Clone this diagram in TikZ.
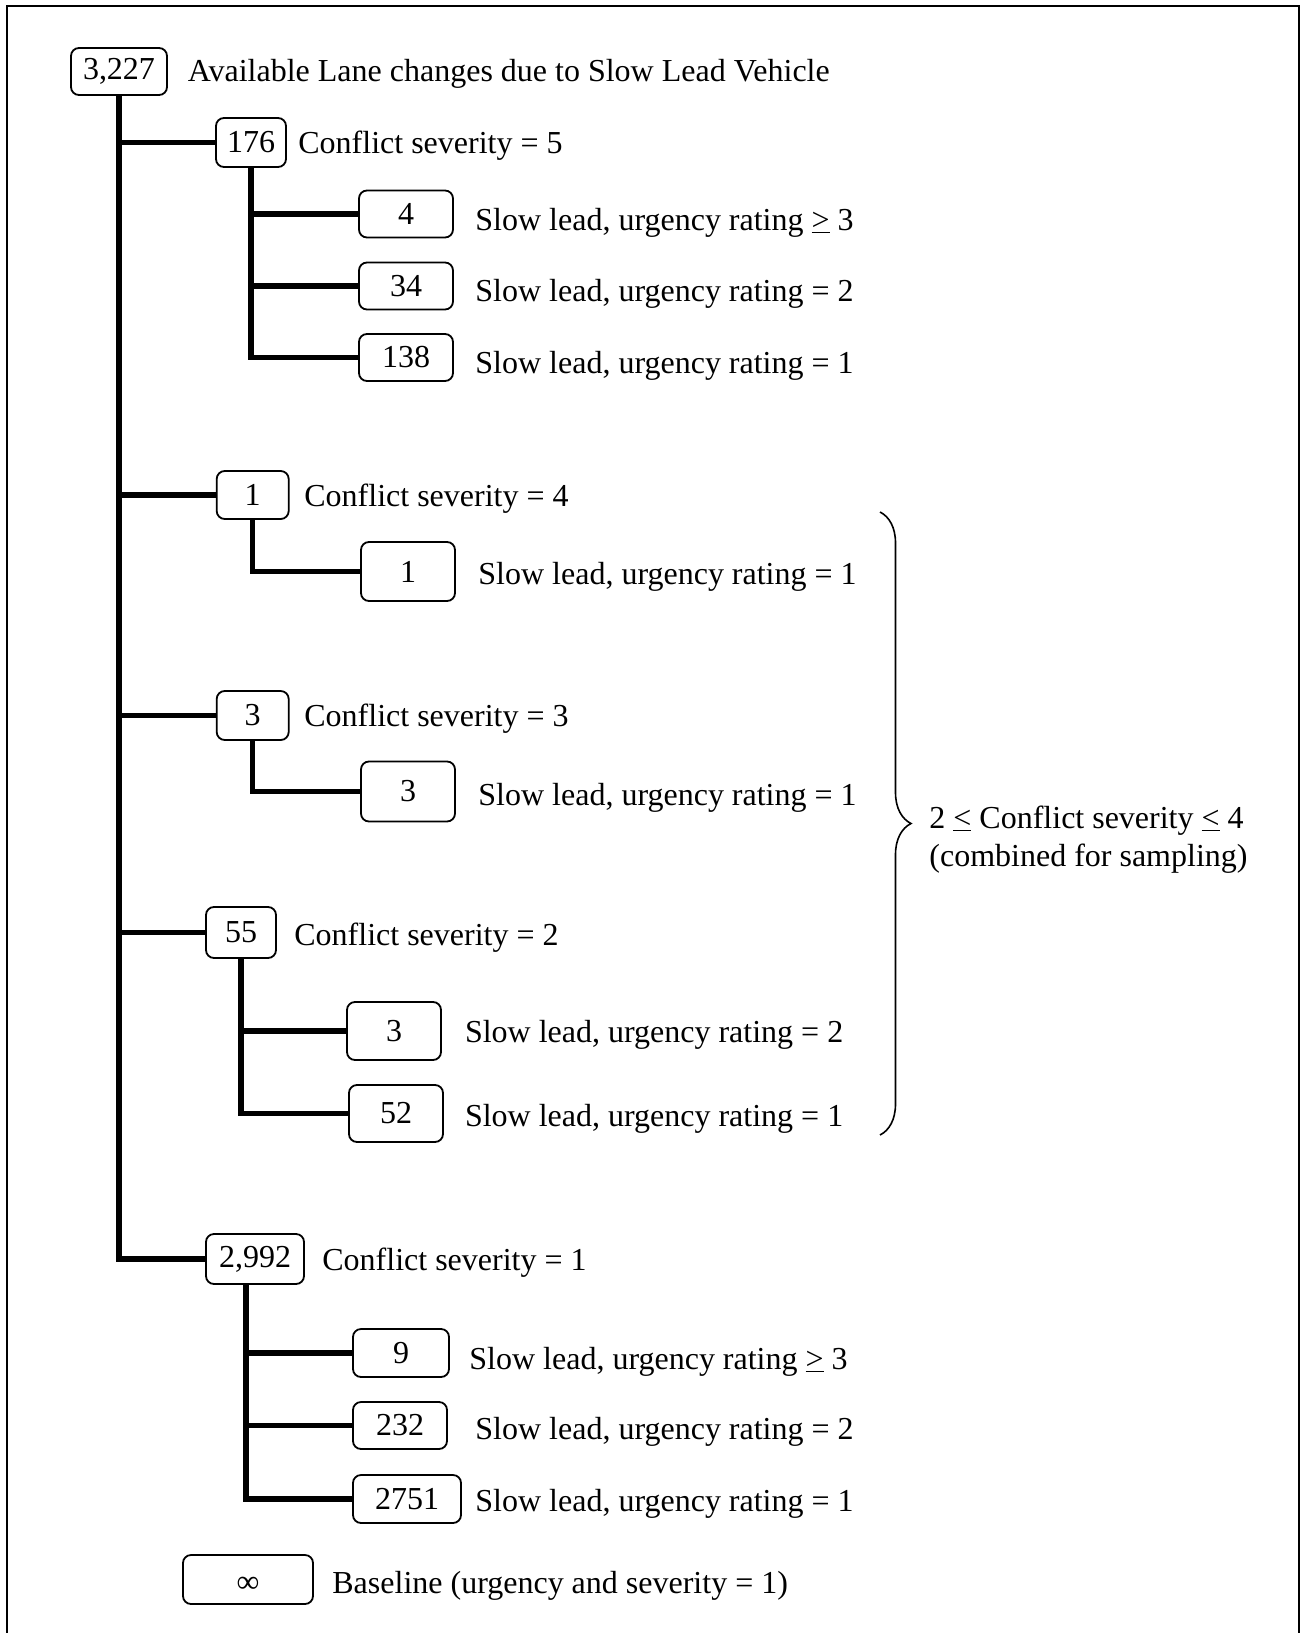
\documentclass[tikz,border=0pt]{standalone}
\usepackage{fontspec}
\setmainfont{Liberation Serif}
\usetikzlibrary{decorations.pathreplacing}

\begin{document}
\begin{tikzpicture}[x=0.5pt, y=-0.5pt, font=\fontsize{16}{19}\selectfont,
    cnt/.style={draw, rounded corners=4pt, line width=0.9pt, inner sep=0pt,
                minimum width=47pt, minimum height=23.5pt},
    lbl/.style={anchor=base west, inner sep=0pt},
    trunk/.style={line width=2.6pt}]

\useasboundingbox (0,0) rectangle (1301,1633);
\draw[line width=1pt] (7,1660) -- (7,6) -- (1299,6) -- (1299,1660);

% count boxes
\node[cnt, minimum width=48pt] (tot) at (119,71.5) {3,227};
\node[cnt, minimum width=35pt, minimum height=24.5pt] (sv5) at (251,142.5) {176};
\node[cnt] (sv5u3) at (406,214) {4};
\node[cnt] (sv5u2) at (406,286) {34};
\node[cnt] (sv5u1) at (406,357.5) {138};
\node[cnt, minimum width=36pt, minimum height=24pt] (sv4) at (252.7,495) {1};
\node[cnt, minimum height=29.5pt] (sv4u1) at (408,571.5) {1};
\node[cnt, minimum width=36pt, minimum height=24.5pt] (sv3) at (252.7,715.5) {3};
\node[cnt, minimum height=30pt] (sv3u1) at (408,791.5) {3};
\node[cnt, minimum width=35pt, minimum height=25.5pt] (sv2) at (241,932.5) {55};
\node[cnt, minimum height=29pt] (sv2u2) at (394,1031) {3};
\node[cnt, minimum height=28.5pt] (sv2u1) at (396,1113.5) {52};
\node[cnt, minimum width=49pt, minimum height=25pt] (sv1) at (255,1259) {2,992};
\node[cnt, minimum width=48pt, minimum height=24pt] (sv1u3) at (401,1353) {9};
\node[cnt] (sv1u2) at (400,1425.5) {232};
\node[cnt, minimum width=54pt, minimum height=24pt] (sv1u1) at (407,1499) {2751};
\node[cnt, minimum width=65pt, minimum height=24.5pt] (base) at (248,1579.5) {\raisebox{-6.5pt}[0pt][0pt]{∞}};

% labels
\node[lbl] (tottxt) at (187.5,81) {Available Lane changes due to Slow Lead Vehicle};
\node[lbl] (sv5txt) at (298,153) {Conflict severity = 5};
\node[lbl] (sv5u3txt) at (475,230) {Slow lead, urgency rating \underline{>} 3};
\node[lbl] (sv5u2txt) at (475,301.5) {Slow lead, urgency rating = 2};
\node[lbl] (sv5u1txt) at (475,373.5) {Slow lead, urgency rating = 1};
\node[lbl] (sv4txt) at (304,506) {Conflict severity = 4};
\node[lbl] (sv4u1txt) at (478,584) {Slow lead, urgency rating = 1};
\node[lbl] (sv3txt) at (304,726) {Conflict severity = 3};
\node[lbl] (sv3u1txt) at (478,805) {Slow lead, urgency rating = 1};
\node[lbl] (sv2txt) at (294,945) {Conflict severity = 2};
\node[lbl] (sv2u2txt) at (464.6,1042) {Slow lead, urgency rating = 2};
\node[lbl] (sv2u1txt) at (464.6,1126) {Slow lead, urgency rating = 1};
\node[lbl] (sv1txt) at (322,1270) {Conflict severity = 1};
\node[lbl] (sv1u3txt) at (469,1369) {Slow lead, urgency rating \underline{>} 3};
\node[lbl] (sv1u2txt) at (475,1439) {Slow lead, urgency rating = 2};
\node[lbl] (sv1u1txt) at (475,1511) {Slow lead, urgency rating = 1};
\node[lbl] (basetxt) at (332,1593) {Baseline (urgency and severity = 1)};

% main trunk
\draw[trunk] (tot.south) |- (sv5.west);
\draw[trunk] (tot.south) |- (sv4.west);
\draw[trunk] (tot.south) |- (sv3.west);
\draw[trunk] (tot.south) |- (sv2.west);
\draw[trunk] (tot.south) |- (sv1.west);

% branches per severity
\draw[trunk] (sv5.south) |- (sv5u3.west);
\draw[trunk] (sv5.south) |- (sv5u2.west);
\draw[trunk] (sv5.south) |- (sv5u1.west);
\draw[trunk] (sv4.south) |- (sv4u1.west);
\draw[trunk] (sv3.south) |- (sv3u1.west);
\draw[trunk] (sv2.south) |- (sv2u2.west);
\draw[trunk] (sv2.south) |- (sv2u1.west);
\draw[trunk] ([xshift=-4.5pt]sv1.south) |- (sv1u3.west);
\draw[trunk] ([xshift=-4.5pt]sv1.south) |- (sv1u2.west);
\draw[trunk] ([xshift=-4.5pt]sv1.south) |- (sv1u1.west);

% grouping brace
\coordinate (brtop) at (880,512);
\coordinate (brbot) at (880,1135);
\draw[decorate, decoration={brace, amplitude=15.5pt}, line width=0.8pt] (brtop) -- (brbot);
\node[lbl] (brtxt1) at (929,828) {2 \underline{<} Conflict severity \underline{<} 4};
\node[lbl] (brtxt2) at (929,866) {(combined for sampling)};

\end{tikzpicture}
\end{document}
